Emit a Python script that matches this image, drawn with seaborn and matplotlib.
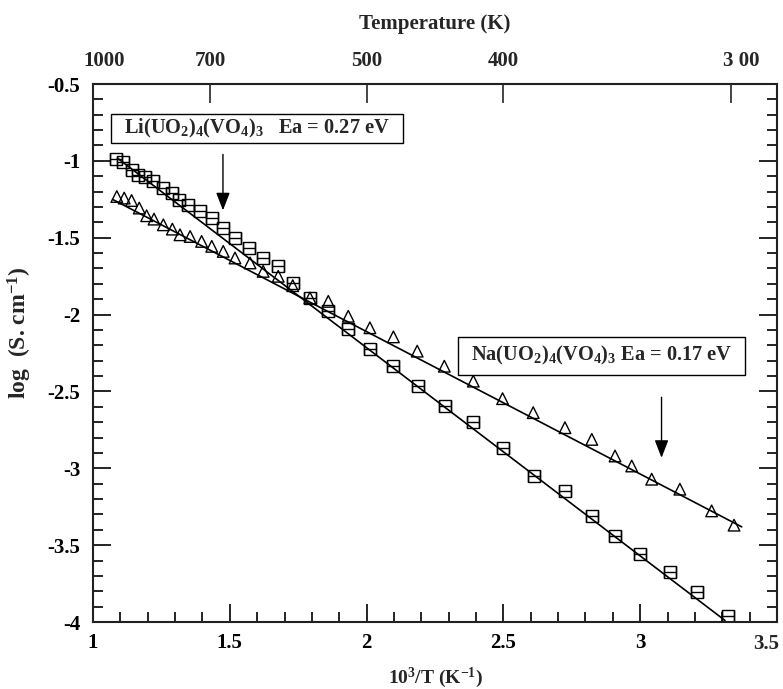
import numpy as np
import seaborn as sns
from matplotlib import pyplot as plt
from matplotlib.patches import Rectangle
from matplotlib.ticker import MultipleLocator

sns.set_theme(style="ticks")
plt.rcParams["font.family"] = ["Liberation Serif", "DejaVu Serif"]
plt.rcParams["font.weight"] = "bold"
plt.rcParams["mathtext.fontset"] = "custom"
plt.rcParams["mathtext.rm"] = "Liberation Serif:bold"
plt.rcParams["mathtext.it"] = "Liberation Serif:bold"
plt.rcParams["mathtext.bf"] = "Liberation Serif:bold"
plt.rcParams["mathtext.default"] = "rm"

# Li(UO2)4(VO4)3 -- squares
li_x = [1.084, 1.111, 1.141, 1.166, 1.190, 1.220, 1.255, 1.288, 1.315, 1.348,
        1.391, 1.434, 1.476, 1.519, 1.571, 1.622, 1.677, 1.732, 1.793, 1.860,
        1.933, 2.012, 2.098, 2.189, 2.287, 2.390, 2.497, 2.612, 2.725, 2.823,
        2.908, 3.000, 3.109, 3.206, 3.322]
li_y = [-0.989, -1.005, -1.058, -1.091, -1.102, -1.134, -1.177, -1.210, -1.253, -1.286,
        -1.329, -1.372, -1.437, -1.502, -1.567, -1.631, -1.686, -1.794, -1.892, -1.979,
        -2.097, -2.223, -2.336, -2.466, -2.595, -2.699, -2.866, -3.050, -3.147, -3.310,
        -3.440, -3.558, -3.677, -3.803, -3.959]

# Na(UO2)4(VO4)3 -- triangles
na_x = [1.087, 1.114, 1.141, 1.169, 1.196, 1.223, 1.257, 1.290, 1.318, 1.355,
        1.397, 1.434, 1.476, 1.519, 1.574, 1.622, 1.677, 1.730, 1.793, 1.860,
        1.933, 2.012, 2.098, 2.185, 2.284, 2.390, 2.497, 2.609, 2.725, 2.823,
        2.908, 2.969, 3.042, 3.145, 3.261, 3.343]
na_y = [-1.232, -1.242, -1.258, -1.307, -1.357, -1.379, -1.416, -1.444, -1.481, -1.492,
        -1.524, -1.556, -1.589, -1.632, -1.664, -1.719, -1.751, -1.812, -1.892, -1.914,
        -2.011, -2.086, -2.145, -2.238, -2.336, -2.433, -2.547, -2.638, -2.736, -2.812,
        -2.920, -2.985, -3.071, -3.136, -3.277, -3.370]

# linear fits (end points)
li_fit_x = [1.09, 3.31]
li_fit_y = [-0.983, -3.99]
na_fit_x = [1.074, 3.371]
na_fit_y = [-1.253, -3.381]

x_ticks = [1, 1.5, 2, 2.5, 3, 3.5]
y_ticks = [-4, -3.5, -3, -2.5, -2, -1.5, -1, -0.5]
temp_labels = ["1000", "700", "500", "400", "3 00"]
temp_values = [1000, 700, 500, 400, 300]

fig = plt.figure(figsize=(7.83, 6.89), dpi=100)
ax = fig.add_axes([93 / 783, 1 - 622 / 689, 684 / 783, 538 / 689])

sns.lineplot(x=li_fit_x, y=li_fit_y, ax=ax, color="black", lw=1.2)
sns.lineplot(x=na_fit_x, y=na_fit_y, ax=ax, color="black", lw=1.2)

ax.errorbar(li_x, li_y, xerr=0.022, fmt="s", ms=8, mfc="none", mec="black",
            mew=1.0, ecolor="black", elinewidth=1.0, capsize=4, capthick=1.0)
sns.scatterplot(x=na_x, y=na_y, ax=ax, marker="^", s=70, fc="none",
                ec="black", linewidth=1.0)

ax.set_xlim(1, 3.5)
ax.set_ylim(-4, -0.5)
ax.set_xticks(x_ticks)
ax.set_yticks(y_ticks)
ax.xaxis.set_minor_locator(MultipleLocator(0.1))
ax.yaxis.set_minor_locator(MultipleLocator(0.1))
# last bottom label is drawn separately so it stays inside the figure
ax.set_xticklabels([f"{v:g}" for v in x_ticks[:-1]] + [""])
ax.set_yticklabels([f"{v:g}" for v in y_ticks])
ax.annotate(f"{x_ticks[-1]:g}", xy=(x_ticks[-1], 0), xycoords=("data", "axes fraction"),
            xytext=(-7.5, -8.5), textcoords="offset points", ha="center", va="top",
            fontsize=15)
ax.tick_params(which="both", direction="in", top=False, right=True,
               labelsize=15, width=1.2, colors="black")
ax.tick_params(axis="y", pad=9)
ax.tick_params(axis="x", pad=8)
ax.tick_params(which="major", length=13)
ax.tick_params(which="minor", length=7.5)
for s in ax.spines.values():
    s.set_linewidth(1.5)
    s.set_color("black")

top = ax.twiny()
top.set_xlim(ax.get_xlim())
temp_pos = [1000 / t for t in temp_values]
top.set_xticks(temp_pos)
# end labels sit a little right of their ticks in the original
top.set_xticklabels([""] + temp_labels[1:-1] + [""])
for pos, lab, dx in [(temp_pos[0], temp_labels[0], 8), (temp_pos[-1], temp_labels[-1], 7)]:
    top.annotate(lab, xy=(pos, 1), xycoords=("data", "axes fraction"),
                 xytext=(dx, 9), textcoords="offset points", ha="center", va="bottom",
                 fontsize=15)
top.tick_params(direction="in", length=14, width=1.2, labelsize=15, pad=9)
top.xaxis.set_minor_locator(plt.NullLocator())

ax.set_xlabel("10$^3$/T (K$^{-1}$)", fontsize=14, fontweight="bold")
ax.xaxis.set_label_coords(0.5, -0.082)
fig.text(20 / 783, 1 - 333 / 689, "log  (S. cm$^{-1}$)", fontsize=17, fontweight="bold",
         rotation=90, ha="center", va="center")
top.set_xlabel("Temperature (K)", fontsize=15, fontweight="bold", labelpad=16)

# annotation boxes
ax.add_patch(Rectangle((1.065, -0.885), 1.069, 0.19, fc="white", ec="black", lw=1.0, zorder=5))
ax.add_patch(Rectangle((2.335, -2.390), 1.048, 0.245, fc="white", ec="black", lw=1.0, zorder=5))
ax.text(1.599, -0.79, "Li(UO$_2$)$_4$(VO$_4$)$_3$   Ea = 0.27 eV", fontsize=14.7,
        ha="center", va="center", zorder=6)
ax.text(2.859, -2.266, "Na(UO$_2$)$_4$(VO$_4$)$_3$ Ea = 0.17 eV", fontsize=14.7,
        ha="center", va="center", zorder=6)

arrow = dict(arrowstyle="-|>,head_width=0.35,head_length=0.9", color="black", lw=1.0)
ax.annotate("", xy=(1.475, -1.34), xytext=(1.475, -0.94), arrowprops=arrow)
ax.annotate("", xy=(3.078, -2.95), xytext=(3.078, -2.52), arrowprops=arrow)

fig.savefig("out.png", dpi=100)
